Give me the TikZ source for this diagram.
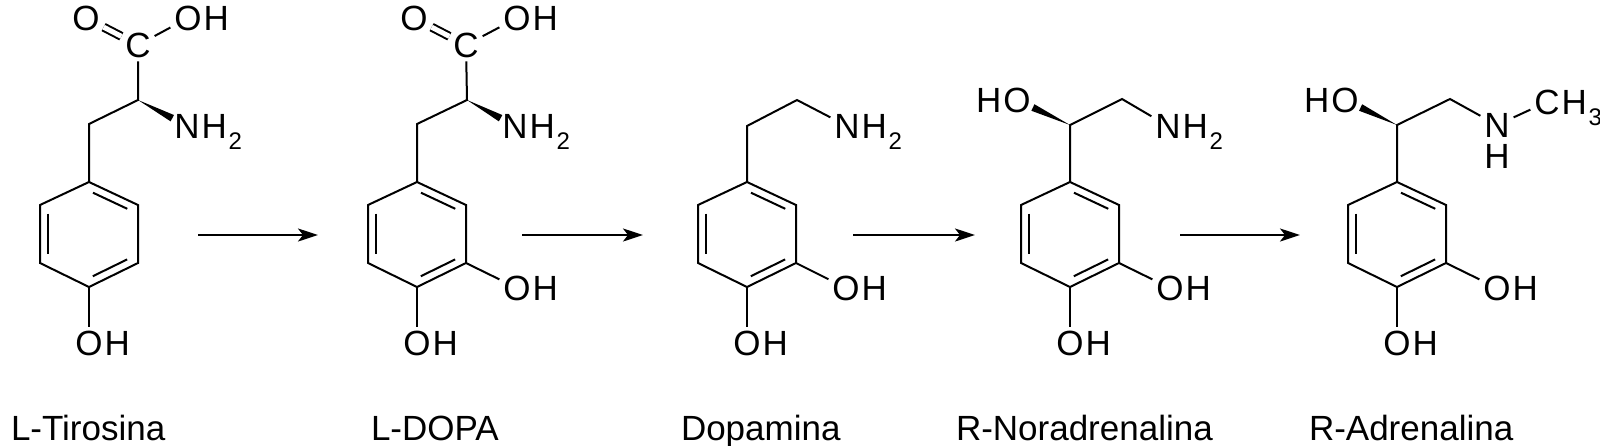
\documentclass[tikz,border=0pt]{standalone}
\usepackage{fontspec}
\setmainfont{Liberation Sans}
\usetikzlibrary{arrows.meta,positioning,calc}
\newcommand{\chsub}[1]{\kern0.8pt\raisebox{-5.5pt}{\fontsize{12}{12}\selectfont #1}}

\begin{document}
\begin{tikzpicture}[x=0.5pt,y=-0.5pt,line width=1pt,
    >={Stealth[length=10pt,width=6.5pt,inset=2.5pt]},
    atom/.style={inner sep=1.5pt,font=\fontsize{17.5}{20}\selectfont},
    molname/.style={anchor=base west,inner sep=0pt,font=\fontsize{17.5}{20}\selectfont},
    react/.style={->,line width=1.1pt}]
    \useasboundingbox (0,0) rectangle (1600,445);

    % L-Tirosina
    \begin{scope}[shift={(89,0)}]
    \coordinate (t1) at (0,182);
    \coordinate (t2) at (49,205);
    \coordinate (t3) at (49,263);
    \coordinate (t4) at (0,287);
    \coordinate (t5) at (-49,263);
    \coordinate (t6) at (-49,205);
    \coordinate (t7) at (0,124);
    \coordinate (t8) at (49,100);
    \node[atom] (tc) at (49,45) {C};
    \node[atom] (to1) at (-3,18) {O};
    \node[atom] (to2) at (99,18) {O};
    \node[atom,base right=-3pt of to2] (th2) {H};
    \node[atom] (tn) at (98,126) {N};
    \node[atom,base right=-3pt of tn] (th3) {H\chsub{2}};
    \node[atom] (to3) at (0,343) {O};
    \node[atom,base right=-3pt of to3] (th4) {H};
    \draw (t1) -- (t2) -- (t3) -- (t4) -- (t5) -- (t6) -- cycle;
    \draw ($(t2)!0.15!(t1)!4pt!90:(t1)$) -- ($(t1)!0.15!(t2)!4pt!-90:(t2)$);
    \draw ($(t6)!0.15!(t5)!4pt!90:(t5)$) -- ($(t5)!0.15!(t6)!4pt!-90:(t6)$);
    \draw ($(t4)!0.15!(t3)!4pt!90:(t3)$) -- ($(t3)!0.15!(t4)!4pt!-90:(t4)$);
    \draw (t1) -- (t7) -- (t8) -- (tc);
    \draw (tc) -- (to2);
    \draw[double,double distance=2.5pt] (tc) -- (to1);
    \fill (t8) -- ($(t8)!0.7!(tn)!1.8pt!90:(tn)$) -- ($(t8)!0.7!(tn)!1.8pt!-90:(tn)$) -- cycle;
    \draw (t4) -- (to3);
    \end{scope}
    \node[molname] (tname) at (10,440) {L-Tirosina};

    % L-DOPA
    \begin{scope}[shift={(417,0)}]
    \coordinate (d1) at (0,182);
    \coordinate (d2) at (49,205);
    \coordinate (d3) at (49,263);
    \coordinate (d4) at (0,287);
    \coordinate (d5) at (-49,263);
    \coordinate (d6) at (-49,205);
    \coordinate (d7) at (0,124);
    \coordinate (d8) at (50,100);
    \node[atom] (dc) at (49,45) {C};
    \node[atom] (do1) at (-3,18) {O};
    \node[atom] (do2) at (100,18) {O};
    \node[atom,base right=-3pt of do2] (dh2) {H};
    \node[atom] (dn) at (98,126) {N};
    \node[atom,base right=-3pt of dn] (dh3) {H\chsub{2}};
    \node[atom] (do3) at (0,343) {O};
    \node[atom,base right=-3pt of do3] (dh4) {H};
    \node[atom] (do4) at (100,288) {O};
    \node[atom,base right=-3pt of do4] (dh5) {H};
    \draw (d1) -- (d2) -- (d3) -- (d4) -- (d5) -- (d6) -- cycle;
    \draw ($(d2)!0.15!(d1)!4pt!90:(d1)$) -- ($(d1)!0.15!(d2)!4pt!-90:(d2)$);
    \draw ($(d6)!0.15!(d5)!4pt!90:(d5)$) -- ($(d5)!0.15!(d6)!4pt!-90:(d6)$);
    \draw ($(d4)!0.15!(d3)!4pt!90:(d3)$) -- ($(d3)!0.15!(d4)!4pt!-90:(d4)$);
    \draw (d1) -- (d7) -- (d8) -- (dc);
    \draw (dc) -- (do2);
    \draw[double,double distance=2.5pt] (dc) -- (do1);
    \fill (d8) -- ($(d8)!0.7!(dn)!1.8pt!90:(dn)$) -- ($(d8)!0.7!(dn)!1.8pt!-90:(dn)$) -- cycle;
    \draw (d4) -- (do3);
    \draw (d3) -- (do4);
    \end{scope}
    \node[molname] (dname) at (370,440) {L-DOPA};

    % Dopamina
    \begin{scope}[shift={(747,0)}]
    \coordinate (p1) at (0,182);
    \coordinate (p2) at (49,205);
    \coordinate (p3) at (49,263);
    \coordinate (p4) at (0,287);
    \coordinate (p5) at (-49,263);
    \coordinate (p6) at (-49,205);
    \coordinate (p7) at (0,126);
    \coordinate (p8) at (50,100);
    \node[atom] (pn) at (100,126) {N};
    \node[atom,base right=-3pt of pn] (ph1) {H\chsub{2}};
    \node[atom] (po1) at (0,343) {O};
    \node[atom,base right=-3pt of po1] (ph2) {H};
    \node[atom] (po2) at (99,288) {O};
    \node[atom,base right=-3pt of po2] (ph3) {H};
    \draw (p1) -- (p2) -- (p3) -- (p4) -- (p5) -- (p6) -- cycle;
    \draw ($(p2)!0.15!(p1)!4pt!90:(p1)$) -- ($(p1)!0.15!(p2)!4pt!-90:(p2)$);
    \draw ($(p6)!0.15!(p5)!4pt!90:(p5)$) -- ($(p5)!0.15!(p6)!4pt!-90:(p6)$);
    \draw ($(p4)!0.15!(p3)!4pt!90:(p3)$) -- ($(p3)!0.15!(p4)!4pt!-90:(p4)$);
    \draw (p1) -- (p7) -- (p8) -- (pn);
    \draw (p4) -- (po1);
    \draw (p3) -- (po2);
    \end{scope}
    \node[molname] (pname) at (680,440) {Dopamina};

    % R-Noradrenalina
    \begin{scope}[shift={(1070,0)}]
    \coordinate (n1) at (0,182);
    \coordinate (n2) at (49,205);
    \coordinate (n3) at (49,263);
    \coordinate (n4) at (0,287);
    \coordinate (n5) at (-49,263);
    \coordinate (n6) at (-49,205);
    \coordinate (n7) at (0,125);
    \coordinate (n8) at (52,99);
    \node[atom] (nn) at (98,126) {N};
    \node[atom,base right=-3pt of nn] (nh1) {H\chsub{2}};
    \node[atom] (no1) at (-53,100) {O};
    \node[atom,base left=-3pt of no1] (nh2) {H};
    \node[atom] (no2) at (0,343) {O};
    \node[atom,base right=-3pt of no2] (nh3) {H};
    \node[atom] (no3) at (100,288) {O};
    \node[atom,base right=-3pt of no3] (nh4) {H};
    \draw (n1) -- (n2) -- (n3) -- (n4) -- (n5) -- (n6) -- cycle;
    \draw ($(n2)!0.15!(n1)!4pt!90:(n1)$) -- ($(n1)!0.15!(n2)!4pt!-90:(n2)$);
    \draw ($(n6)!0.15!(n5)!4pt!90:(n5)$) -- ($(n5)!0.15!(n6)!4pt!-90:(n6)$);
    \draw ($(n4)!0.15!(n3)!4pt!90:(n3)$) -- ($(n3)!0.15!(n4)!4pt!-90:(n4)$);
    \draw (n1) -- (n7) -- (n8) -- (nn);
    \fill (n7) -- ($(n7)!0.7!(no1)!1.8pt!90:(no1)$) -- ($(n7)!0.7!(no1)!1.8pt!-90:(no1)$) -- cycle;
    \draw (n4) -- (no2);
    \draw (n3) -- (no3);
    \end{scope}
    \node[molname] (nname) at (955,440) {R-Noradrenalina};

    % R-Adrenalina
    \begin{scope}[shift={(1397,0)}]
    \coordinate (a1) at (0,182);
    \coordinate (a2) at (49,205);
    \coordinate (a3) at (49,263);
    \coordinate (a4) at (0,287);
    \coordinate (a5) at (-49,263);
    \coordinate (a6) at (-49,205);
    \coordinate (a7) at (0,125);
    \coordinate (a8) at (53,99);
    \node[atom] (an) at (100,125) {N};
    \node[atom,below=-0.5pt of an] (ah1) {H};
    \node[atom] (ac) at (150,102) {C};
    \node[atom,base right=-3pt of ac] (ah2) {H\chsub{3}};
    \node[atom] (ao1) at (-52,100) {O};
    \node[atom,base left=-3pt of ao1] (ah3) {H};
    \node[atom] (ao2) at (0,343) {O};
    \node[atom,base right=-3pt of ao2] (ah4) {H};
    \node[atom] (ao3) at (100,288) {O};
    \node[atom,base right=-3pt of ao3] (ah5) {H};
    \draw (a1) -- (a2) -- (a3) -- (a4) -- (a5) -- (a6) -- cycle;
    \draw ($(a2)!0.15!(a1)!4pt!90:(a1)$) -- ($(a1)!0.15!(a2)!4pt!-90:(a2)$);
    \draw ($(a6)!0.15!(a5)!4pt!90:(a5)$) -- ($(a5)!0.15!(a6)!4pt!-90:(a6)$);
    \draw ($(a4)!0.15!(a3)!4pt!90:(a3)$) -- ($(a3)!0.15!(a4)!4pt!-90:(a4)$);
    \draw (a1) -- (a7) -- (a8) -- (an);
    \draw (an) -- (ac);
    \fill (a7) -- ($(a7)!0.7!(ao1)!1.8pt!90:(ao1)$) -- ($(a7)!0.7!(ao1)!1.8pt!-90:(ao1)$) -- cycle;
    \draw (a4) -- (ao2);
    \draw (a3) -- (ao3);
    \end{scope}
    \node[molname] (aname) at (1308,440) {R-Adrenalina};

    % reaction arrows
    \coordinate (r1s) at (198,235);
    \coordinate (r1e) at (318,235);
    \coordinate (r2s) at (522,235);
    \coordinate (r2e) at (643,235);
    \coordinate (r3s) at (853,235);
    \coordinate (r3e) at (975,235);
    \coordinate (r4s) at (1180,235);
    \coordinate (r4e) at (1300,235);
    \draw[react] (r1s) -- (r1e);
    \draw[react] (r2s) -- (r2e);
    \draw[react] (r3s) -- (r3e);
    \draw[react] (r4s) -- (r4e);
\end{tikzpicture}
\end{document}
